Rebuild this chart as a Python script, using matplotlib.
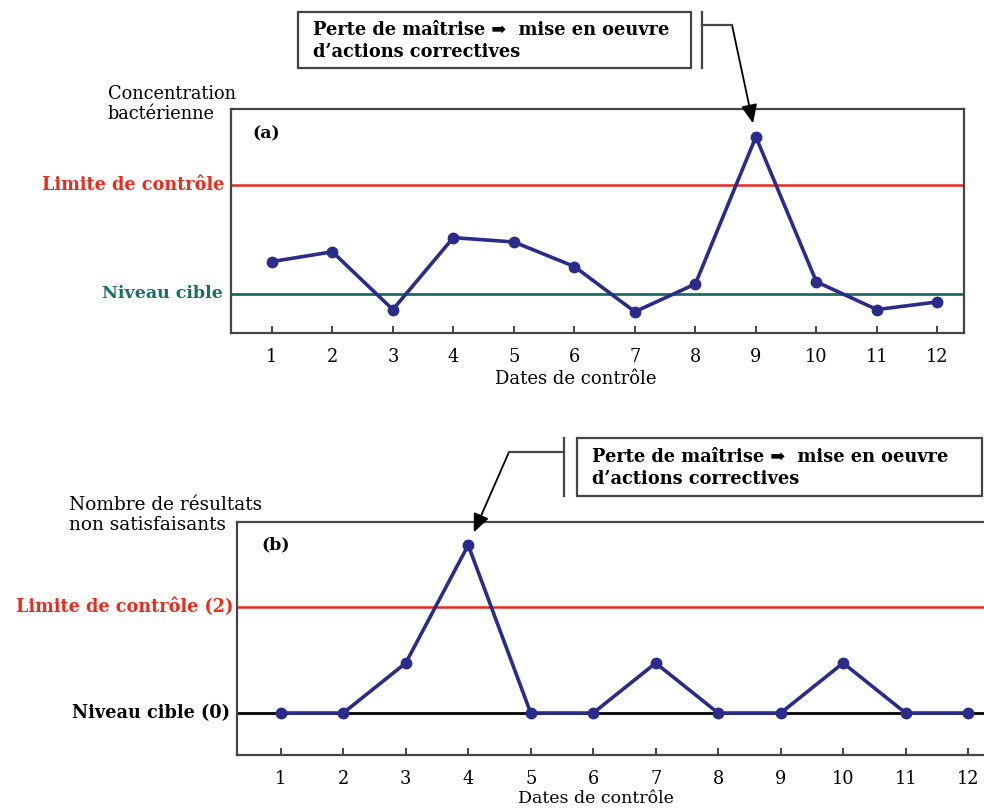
import matplotlib
matplotlib.use("Agg")
import matplotlib.pyplot as plt
from matplotlib.patches import Rectangle
from matplotlib.lines import Line2D

# ---------------- data ----------------
dates = list(range(1, 13))
tick_labels = [str(d) for d in dates]

conc_values = [1.59, 1.77, 0.71, 2.03, 1.95, 1.50, 0.67, 1.18, 3.88, 1.22, 0.71, 0.85]
conc_limit = 3.0
conc_target = 1.0

count_values = [0, 0, 0.94, 3.16, 0, 0, 0.94, 0, 0, 0.94, 0, 0]
count_limit = 2.0
count_target = 0.0

peak_a = 9
peak_b = 4

# ---------------- style ----------------
W, H = 984, 809
SERIF = ["DejaVu Serif"]
ARROWFAM = ["DejaVu Serif", "DejaVu Sans"]
NAVY = "#2b2b8c"
RED = "#ec2a1c"
TEAL = "#1b6e68"
SPINE = "#454545"

plt.rcParams["font.family"] = SERIF

fig = plt.figure(figsize=(W / 100, H / 100), dpi=100)
fig.patch.set_facecolor("white")


def fx(x):
    return x / W


def fy(y):
    return 1 - y / H


def rect(l, t, r, b):
    return [fx(l), fy(b), fx(r) - fx(l), fy(t) - fy(b)]


def style_axes(ax, right_spine=True):
    for s in ax.spines.values():
        s.set_color(SPINE)
        s.set_linewidth(1.6)
    ax.spines["right"].set_visible(right_spine)
    ax.set_yticks([])
    ax.set_xticks(dates)
    ax.set_xticklabels(tick_labels, fontsize=12.8, family=SERIF)
    ax.tick_params(axis="x", direction="in", length=5, width=1.4, color=SPINE, pad=11)


ARROW = dict(arrowstyle="-|>,head_length=0.8,head_width=0.35",
             color="black", lw=1.3, shrinkA=0, shrinkB=10, mutation_scale=14)

# ---------------- panel (a) ----------------
ax1 = fig.add_axes(rect(230.7, 109, 964, 333))
ax1.set_xlim(0.32, 12.44)
ax1.set_ylim(0.28, 4.39)
style_axes(ax1)
ax1.axhline(conc_limit, color=RED, lw=1.8, zorder=1)
ax1.axhline(conc_target, color=TEAL, lw=2.0, zorder=1)
ax1.plot(dates, conc_values, color=NAVY, lw=2.6, marker="o", ms=7.5, zorder=3)
ax1.text(0.029, 0.89, "(a)", transform=ax1.transAxes, fontsize=12.5, weight="bold",
         ha="left", va="center")
ax1.text(-0.008, conc_limit, "Limite de contrôle", transform=ax1.get_yaxis_transform(),
         color=RED, fontsize=12.7, weight="bold", ha="right", va="center")
ax1.text(-0.011, conc_target, "Niveau cible", transform=ax1.get_yaxis_transform(),
         color=TEAL, fontsize=12.5, weight="bold", ha="right", va="center")
ax1.set_xlabel("Dates de contrôle", fontsize=13)
ax1.xaxis.set_label_coords(0.471, -0.165)

fig.text(fx(108), fy(104), "Concentration\nbactérienne", fontsize=12.8,
         ha="left", va="center", linespacing=1.2)

# annotation box (a)
fig.patches.append(Rectangle((fx(298), fy(68)), fx(691) - fx(298), fy(12) - fy(68),
                             transform=fig.transFigure, fill=False, ec=SPINE, lw=1.6))
fig.text(fx(313), fy(41), "Perte de maîtrise ➡  mise en oeuvre\nd’actions correctives",
         fontsize=12.8, weight="bold", family=ARROWFAM, ha="left", va="center",
         linespacing=1.22)
fig.lines.append(Line2D([fx(702), fx(702)], [fy(12), fy(68)], transform=fig.transFigure,
                        color=SPINE, lw=1.6))
fig.lines.append(Line2D([fx(702), fx(732)], [fy(25), fy(25)], transform=fig.transFigure,
                        color=SPINE, lw=1.6))
ax1.annotate("", xy=(peak_a, conc_values[peak_a - 1]), xycoords="data",
             xytext=(fx(732), fy(25)), textcoords="figure fraction",
             arrowprops=ARROW, annotation_clip=False)

# ---------------- panel (b) ----------------
ax2 = fig.add_axes(rect(237, 521.7, 990, 755))
ax2.set_xlim(0.30, 12.35)
ax2.set_ylim(-0.79, 3.6)
style_axes(ax2, right_spine=False)
ax2.axhline(count_limit, color=RED, lw=1.8, zorder=1)
ax2.axhline(count_target, color="black", lw=2.0, zorder=1)
ax2.plot(dates, count_values, color=NAVY, lw=2.6, marker="o", ms=7.5, zorder=3)
ax2.text(0.033, 0.9, "(b)", transform=ax2.transAxes, fontsize=12.5, weight="bold",
         ha="left", va="center")
ax2.text(-0.005, count_limit, "Limite de contrôle (2)", transform=ax2.get_yaxis_transform(),
         color=RED, fontsize=12.7, weight="bold", ha="right", va="center")
ax2.text(-0.009, count_target, "Niveau cible (0)", transform=ax2.get_yaxis_transform(),
         color="black", fontsize=12.7, weight="bold", ha="right", va="center")
ax2.set_xlabel("Dates de contrôle", fontsize=12.5)
ax2.xaxis.set_label_coords(0.477, -0.148)

fig.text(fx(69), fy(515), "Nombre de résultats\nnon satisfaisants", fontsize=13.3,
         ha="left", va="center", linespacing=1.2)

# annotation box (b)
fig.patches.append(Rectangle((fx(577), fy(496)), fx(982) - fx(577), fy(438) - fy(496),
                             transform=fig.transFigure, fill=False, ec=SPINE, lw=1.6))
fig.text(fx(592), fy(468), "Perte de maîtrise ➡  mise en oeuvre\nd’actions correctives",
         fontsize=12.8, weight="bold", family=ARROWFAM, ha="left", va="center",
         linespacing=1.22)
fig.lines.append(Line2D([fx(564), fx(564)], [fy(438), fy(496)], transform=fig.transFigure,
                        color=SPINE, lw=1.6))
fig.lines.append(Line2D([fx(564), fx(509)], [fy(452), fy(452)], transform=fig.transFigure,
                        color=SPINE, lw=1.6))
ax2.annotate("", xy=(peak_b, count_values[peak_b - 1]), xycoords="data",
             xytext=(fx(509), fy(452)), textcoords="figure fraction",
             arrowprops=ARROW, annotation_clip=False)

fig.savefig("out.png", dpi=100)
